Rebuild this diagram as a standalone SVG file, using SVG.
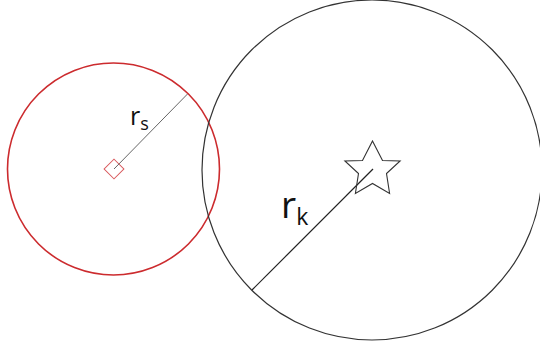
<svg xmlns="http://www.w3.org/2000/svg" width="540" height="350" viewBox="0 0 540 350">
  <style>
    .lbl { font-family: "Open Sans", "DejaVu Sans", sans-serif; fill: #111; }
  </style>
  <rect width="540" height="350" fill="#ffffff"/>
  <g id="source-circle">
    <circle cx="113.5" cy="169" r="106" fill="none" stroke="#cc2b2e" stroke-width="1.6"/>
  </g>
  <g id="big-circle">
    <circle cx="372" cy="170" r="170" fill="none" stroke="#333333" stroke-width="1.2"/>
  </g>
  <g id="source-marker">
    <rect x="107" y="162" width="14" height="14" fill="none" stroke="#d9595c" stroke-width="1" transform="rotate(45 114 169)"/>
  </g>
  <g id="connectors">
    <line x1="114" y1="169" x2="187.5" y2="94" stroke="#666666" stroke-width="1"/>
    <line x1="252" y1="290" x2="373" y2="169" stroke="#222222" stroke-width="1.2"/>
  </g>
  <g id="star">
    <polygon points="372.5,141 382.5,160.5 400.1,161 386.5,173.5 389.6,193.5 372.5,183.5 355.4,193.5 358.5,173.5 344.9,161 362.5,160.5" fill="none" stroke="#333333" stroke-width="1.1" stroke-linejoin="miter"/>
  </g>
  <g id="label-rs">
    <text class="lbl" x="130" y="125" font-size="25">r<tspan font-size="18" dy="5">s</tspan></text>
  </g>
  <g id="label-rk">
    <text class="lbl" x="281" y="218" font-size="37">r<tspan font-size="23" dy="7">k</tspan></text>
  </g>
</svg>
